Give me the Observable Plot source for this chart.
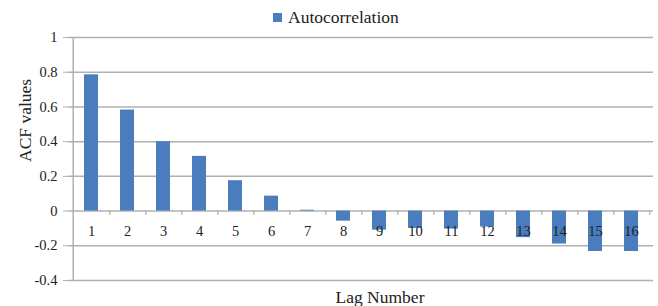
<!DOCTYPE html>
<html>
<head>
<meta charset="utf-8">
<script src="https://cdn.jsdelivr.net/npm/d3@7"></script>
<script src="https://cdn.jsdelivr.net/npm/@observablehq/plot@0.6"></script>
<style>
  html, body { margin: 0; padding: 0; background: #fff; }
  #wrap { position: relative; width: 658px; height: 306px; font-family: "Liberation Serif", "DejaVu Serif", serif; color: #222; }
  #legend { position: absolute; left: 273px; top: 7px; display: flex; align-items: center; font-size: 17.5px; line-height: 20px; }
  #legend .sw { width: 9px; height: 9px; background: #4a7dbd; margin-right: 6px; }
  svg { display: block; }
  svg text { font-family: "Liberation Serif", "DejaVu Serif", serif; }
</style>
</head>
<body>
<div id="wrap">
  <div id="legend"><span class="sw"></span><span>Autocorrelation</span></div>
</div>
<script>
const lags = [1, 2, 3, 4, 5, 6, 7, 8, 9, 10, 11, 12, 13, 14, 15, 16];
const acf = [0.785, 0.582, 0.40, 0.315, 0.175, 0.086, 0.005, -0.058, -0.11, -0.10, -0.104, -0.092, -0.153, -0.19, -0.233, -0.233];
const yTicks = [-0.4, -0.2, 0, 0.2, 0.4, 0.6, 0.8, 1];
const seriesName = "Autocorrelation";
const xTitle = "Lag Number";
const yTitle = "ACF values";

const data = lags.map((lag, i) => ({lag, value: acf[i]}));

const W = 658, H = 306, ML = 68, MR = 5, MT = 37, MB = 26;
const step = (W - ML - MR) / lags.length;
const grid = "#b0b0b0";
const fmt = d => String(+d.toFixed(1));
const yMin = d3.min(yTicks), yMax = d3.max(yTicks);

const chart = Plot.plot({
  width: W,
  height: H,
  marginLeft: ML,
  marginRight: MR,
  marginTop: MT,
  marginBottom: MB,
  style: {fontFamily: "'Liberation Serif', 'DejaVu Serif', serif", fontSize: "14.5px", color: "#222", background: "transparent"},
  x: {type: "band", domain: lags, paddingInner: 0.62, paddingOuter: 0.31, axis: null},
  y: {domain: [yMin, yMax], axis: null},
  marks: [
    Plot.gridY(yTicks, {stroke: grid, strokeOpacity: 1, strokeWidth: 1.5}),
    Plot.axisY(yTicks, {
      tickFormat: fmt, tickSize: 5, tickPadding: 6, stroke: grid, fill: "#222",
      label: null, fontSize: 14.5
    }),
    Plot.ruleX(lags.slice(0, 1), {x: d => d, dx: -step / 2, y1: yMin, y2: yMax, stroke: grid, strokeWidth: 1.5}),
    Plot.barY(data, {x: "lag", y: "value", fill: "#4a7dbd"}),
    Plot.ruleX(lags, {x: d => d, dx: step / 2, y1: 0, y2: -0.025, stroke: grid, strokeWidth: 1.2}),
    Plot.text(data, {x: "lag", y: 0, text: d => String(d.lag), dy: 20, fill: "#222", fontSize: 14.5}),
    Plot.text([yTitle], {frameAnchor: "left", dx: -43, dy: 3, rotate: -90, fontSize: 17.5, fill: "#222"}),
    Plot.text([xTitle], {frameAnchor: "bottom", dx: 19, dy: 10, lineAnchor: "top", fontSize: 17.5, fill: "#222"})
  ]
});
document.getElementById("wrap").appendChild(chart);
</script>
</body>
</html>
